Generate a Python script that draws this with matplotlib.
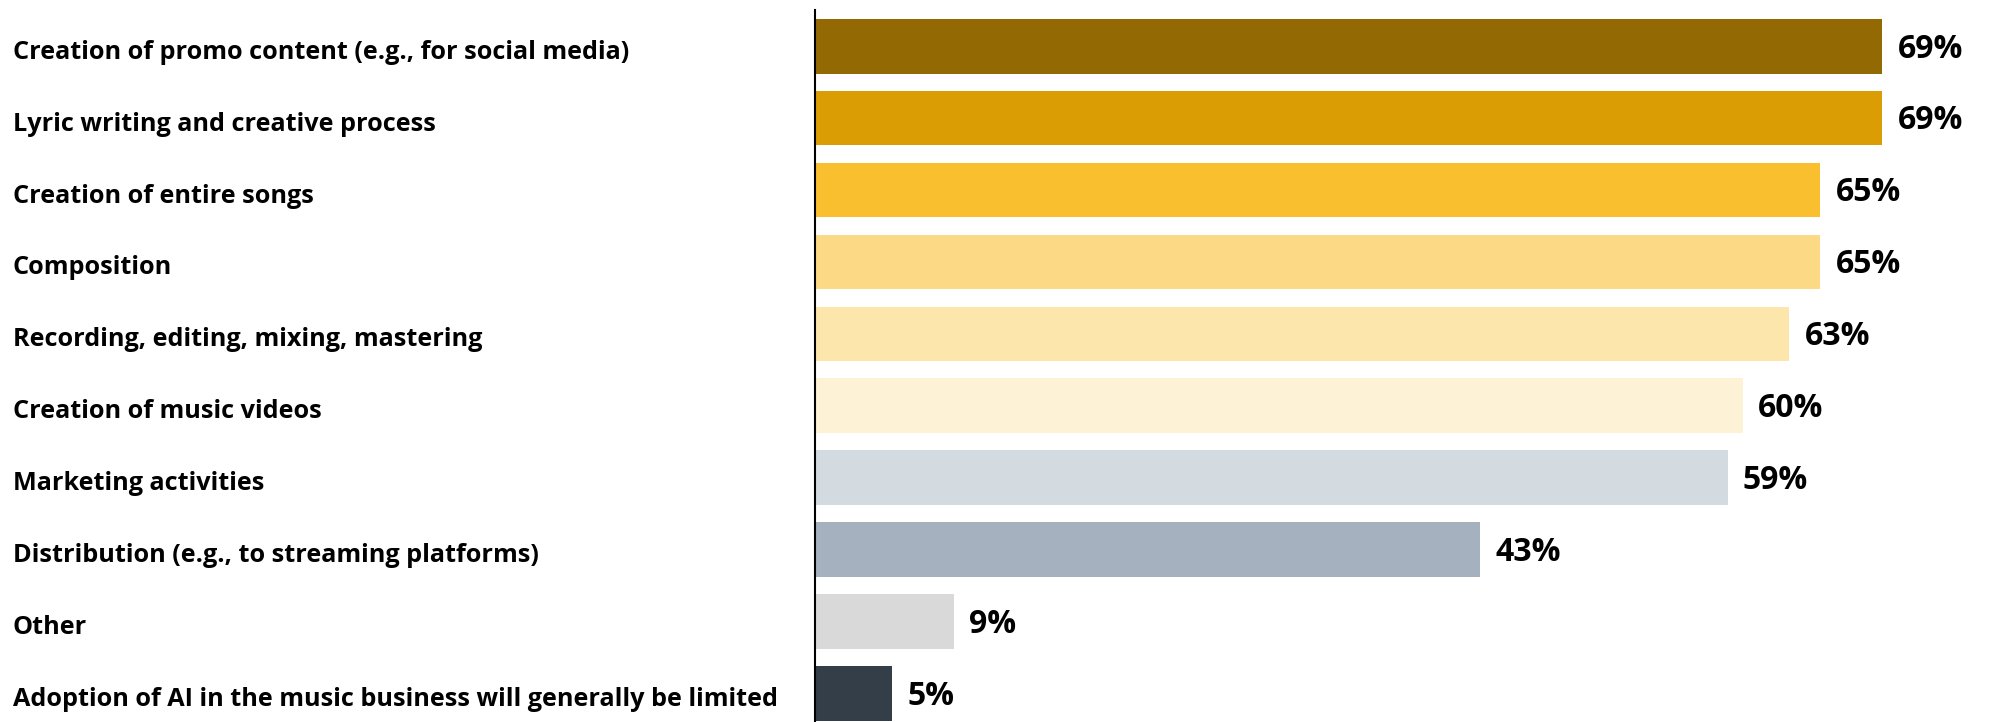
import matplotlib
matplotlib.use("Agg")
import matplotlib.pyplot as plt
import matplotlib.transforms as mtransforms

categories = [
    "Creation of promo content (e.g., for social media)",
    "Lyric writing and creative process",
    "Creation of entire songs",
    "Composition",
    "Recording, editing, mixing, mastering",
    "Creation of music videos",
    "Marketing activities",
    "Distribution (e.g., to streaming platforms)",
    "Other",
    "Adoption of AI in the music business will generally be limited",
]
values = [69, 69, 65, 65, 63, 60, 59, 43, 9, 5]
colors = [
    "#936903", "#DA9E04", "#F9BF2E", "#FCD985", "#FCE6AC",
    "#FDF2D6", "#D3DAE0", "#A5B1BE", "#D9D9D9", "#343E48",
]

W, H = 1989, 722
fig = plt.figure(figsize=(W / 100, H / 100), dpi=100)
ax = fig.add_axes([815 / W, 0, (1975 - 815) / W, 712 / H])

pos = list(range(len(categories)))
ax.barh(pos, values, height=0.76, color=colors)
ax.set_xlim(0, 75)
ax.set_ylim(9.4, -0.505)

font = "Open Sans"
for p, v in zip(pos, values):
    ax.annotate(f"{v}%", (v, p), xytext=(11, -2), textcoords="offset points",
                va="center", ha="left", fontsize=23, fontweight="bold",
                family=font, color="black")

ax.set_yticks(pos)
ax.set_yticklabels(categories, fontsize=18.2, fontweight="bold", family=font)
ax.tick_params(axis="y", length=0, pad=0)
shift = mtransforms.ScaledTranslation(0, -3 / 100, fig.dpi_scale_trans)
for lbl in ax.get_yticklabels():
    lbl.set_horizontalalignment("left")
    lbl.set_x(-815 / (1975 - 815) + 13 / (1975 - 815))
    lbl.set_transform(lbl.get_transform() + shift)
ax.set_xticks([])
for s in ("top", "right", "bottom"):
    ax.spines[s].set_visible(False)
ax.spines["left"].set_linewidth(1.5)
ax.spines["left"].set_color("black")

fig.savefig("out.png", dpi=100)
